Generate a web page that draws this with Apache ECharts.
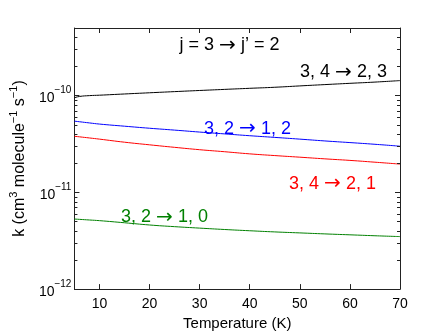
<!DOCTYPE html>
<html>
<head>
<meta charset="utf-8">
<script src="https://cdn.jsdelivr.net/npm/echarts@6/dist/echarts.min.js"></script>
<style>
  html, body { margin: 0; padding: 0; background: #fff; }
  #chart { width: 436px; height: 336px; }
</style>
</head>
<body>
<div id="chart"></div>
<script>
// temperature (K)
const temps = [5, 6, 8, 10, 15, 20, 25, 30, 35, 40, 45, 50, 55, 60, 65, 70]
// rate coefficients k (cm^3 molecule^-1 s^-1)
const k3423 = [9.5e-11, 9.8e-11, 1.0e-10, 1.01e-10, 1.04e-10, 1.07e-10, 1.10e-10, 1.13e-10,
               1.16e-10, 1.19e-10, 1.22e-10, 1.26e-10, 1.30e-10, 1.34e-10, 1.38e-10, 1.43e-10]
const k3212 = [5.45e-11, 5.37e-11, 5.22e-11, 5.08e-11, 4.83e-11, 4.6e-11, 4.4e-11, 4.2e-11,
               4.02e-11, 3.85e-11, 3.7e-11, 3.55e-11, 3.4e-11, 3.27e-11, 3.14e-11, 3.0e-11]
const k3421 = [3.8e-11, 3.75e-11, 3.65e-11, 3.55e-11, 3.3e-11, 3.1e-11, 2.92e-11, 2.76e-11,
               2.63e-11, 2.5e-11, 2.4e-11, 2.31e-11, 2.22e-11, 2.14e-11, 2.05e-11, 1.96e-11]
const k3210 = [5.3e-12, 5.26e-12, 5.18e-12, 5.1e-12, 4.85e-12, 4.6e-12, 4.42e-12, 4.27e-12,
               4.13e-12, 4.01e-12, 3.9e-12, 3.81e-12, 3.72e-12, 3.64e-12, 3.56e-12, 3.49e-12]

const xMin = 5, xMax = 70
const yMin = 1e-12, yMax = 5e-10
const decades = [1e-12, 1e-11, 1e-10]
const minorSteps = [2, 3, 4, 5, 6, 7, 8, 9]
const minorTicks = []
decades.forEach(d => minorSteps.forEach(m => { if (m * d < yMax * 0.999) minorTicks.push(m * d) }))

const FONT = 'Liberation Sans, Arial, Helvetica, sans-serif'
const AX = '#222'

const chart = echarts.init(document.getElementById('chart'))

const pairs = arr => temps.map((t, i) => [t, arr[i]])
const line = (name, arr, color) => ({
  name, type: 'line', data: pairs(arr), showSymbol: false, smooth: true,
  lineStyle: { color, width: 1 }, itemStyle: { color }, z: 3
})

// annotation text with a wider arrow glyph
const note = (left, right, x, y, color) => ({
  type: 'text', x, y, z: 10,
  style: {
    text: '{t|' + left + '}{a|→}{t|' + right + '}',
    align: 'center', verticalAlign: 'middle',
    rich: {
      t: { fontSize: 18, fontFamily: FONT, fill: color, color },
      a: { fontSize: 20, fontFamily: 'DejaVu Sans', fill: color, color }
    }
  }
})

const xCommon = {
  type: 'value', min: xMin, max: xMax, splitNumber: 7,
  axisLine: { show: true, lineStyle: { color: AX, width: 1 } },
  axisTick: { show: true, inside: true, length: 5, lineStyle: { color: AX } },
  splitLine: { show: false }
}
const yCommon = {
  type: 'log', logBase: 10, min: yMin, max: yMax,
  axisLine: { show: true, lineStyle: { color: AX, width: 1 } },
  axisTick: { show: true, inside: true, length: 5, lineStyle: { color: AX } },
  splitLine: { show: false }
}

chart.setOption({
  animation: false,
  textStyle: { fontFamily: FONT },
  grid: { left: 62, right: 36, top: 28, bottom: 39 },
  xAxis: [
    Object.assign({}, xCommon, {
      position: 'bottom',
      name: 'Temperature (K)', nameLocation: 'middle', nameGap: 21,
      nameTextStyle: { fontSize: 15, color: '#000', fontFamily: FONT },
      axisLabel: { fontSize: 14, color: '#000', margin: 8, showMinLabel: false, fontFamily: FONT }
    }),
    Object.assign({}, xCommon, { position: 'top', axisLabel: { show: false } })
  ],
  yAxis: [
    Object.assign({}, yCommon, {
      position: 'left',
      name: '{b|k (cm}{s|3}{b| molecule}{s|−1}{b| s}{s|−1}{b|)}',
      nameLocation: 'middle', nameGap: 46, nameRotate: 90,
      nameTextStyle: {
        color: '#000', fontFamily: FONT,
        rich: {
          b: { fontSize: 16, lineHeight: 20, verticalAlign: 'bottom', color: '#000', fontFamily: FONT },
          s: { fontSize: 11, lineHeight: 8, verticalAlign: 'top', color: '#000', fontFamily: FONT }
        }
      },
      axisLabel: {
        margin: 3, showMaxLabel: false, color: '#000',
        formatter: v => '{b|10}{s|−' + Math.abs(Math.round(Math.log10(v))) + '}',
        rich: {
          b: { fontSize: 14, lineHeight: 20, verticalAlign: 'bottom', color: '#000', fontFamily: FONT },
          s: { fontSize: 10, lineHeight: 8, verticalAlign: 'top', color: '#000', fontFamily: FONT }
        }
      }
    }),
    Object.assign({}, yCommon, { position: 'right', axisLabel: { show: false } })
  ],
  series: [
    line('3, 4 → 2, 3', k3423, '#000000'),
    line('3, 2 → 1, 2', k3212, '#0000ff'),
    line('3, 4 → 2, 1', k3421, '#ff0000'),
    line('3, 2 → 1, 0', k3210, '#008000'),
    {
      // minor log ticks on left and right frame
      type: 'custom', silent: true, clip: false, z: 4,
      data: minorTicks.map(v => [xMin, v]),
      encode: { x: 0, y: 1 },
      renderItem: (params, api) => {
        const y = Math.round(api.coord([xMin, api.value(1)])[1]) + 0.5
        const cs = params.coordSys
        return {
          type: 'group',
          children: [
            { type: 'line', shape: { x1: cs.x, y1: y, x2: cs.x + 3, y2: y }, style: { stroke: AX, lineWidth: 1 } },
            { type: 'line', shape: { x1: cs.x + cs.width - 3, y1: y, x2: cs.x + cs.width, y2: y }, style: { stroke: AX, lineWidth: 1 } }
          ]
        }
      }
    }
  ],
  graphic: [
    note('j = 3 ', ' j’ = 2', 229.5, 45.5, '#000000'),
    note('3, 4 ', ' 2, 3', 343.5, 72.5, '#000000'),
    note('3, 2 ', ' 1, 2', 247.5, 129, '#0000ff'),
    note('3, 4 ', ' 2, 1', 332.5, 184, '#ff0000'),
    note('3, 2 ', ' 1, 0', 164.5, 217.5, '#008000')
  ]
})
</script>
</body>
</html>
